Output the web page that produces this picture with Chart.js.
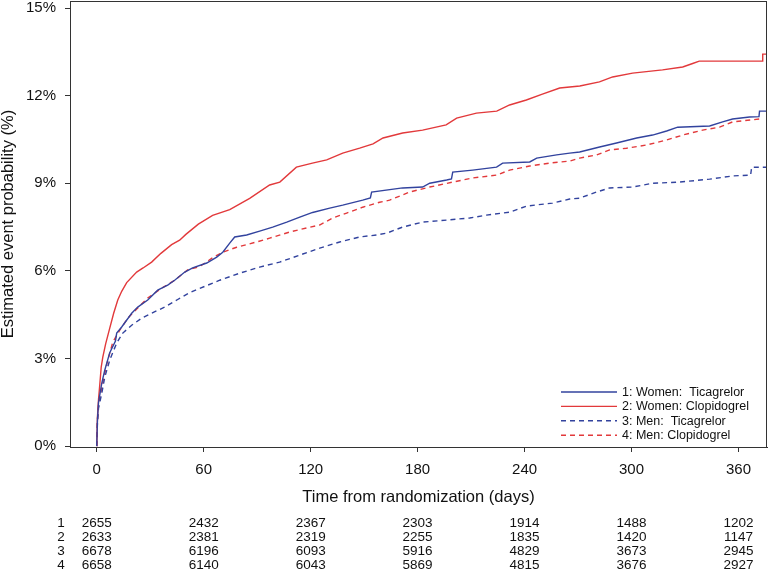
<!DOCTYPE html>
<html lang="en">
<head>
    <meta charset="UTF-8">
    <title>Kaplan-Meier: women vs men</title>
    <script src="https://cdn.jsdelivr.net/npm/chart.js"></script>
    <style>
        html, body { margin: 0; padding: 0; background: #fff; }
        #wrap { width: 768px; height: 570px; }
    </style>
</head>
<body>
    <div id="wrap"><canvas id="kmChart" width="768" height="570"></canvas></div>

    <script>
        // tick positions and labels
        const dayTicks = [0, 60, 120, 180, 240, 300, 360];
        const pctTicks = [0, 3, 6, 9, 12, 15];
        const seriesNames = ['1: Women:  Ticagrelor', '2: Women: Clopidogrel', '3: Men:  Ticagrelor', '4: Men: Clopidogrel'];

        // curves: [day, estimated event probability %]
        const womenTica = [[0,0],[0.4,0.9],[1,1.5],[2.8,2.15],[4.5,2.6],[7.3,3.2],[10.5,3.6],[11.2,3.87],[14,4.08],[19.6,4.55],[23,4.76],[28.6,5.0],[34.2,5.34],[39.8,5.51],[43.7,5.68],[49.4,5.96],[53.8,6.1],[61.7,6.27],[67.3,6.47],[70.7,6.64],[74.6,6.95],[77.4,7.16],[84.1,7.23],[91.4,7.36],[98.7,7.5],[106.6,7.67],[113.9,7.84],[121.1,8.0],[130.7,8.15],[138,8.25],[149.2,8.42],[153.5,8.5],[154.2,8.7],[171.6,8.84],[182.8,8.87],[186.8,9.0],[196.3,9.11],[199,9.15],[199.7,9.38],[210.9,9.45],[224.3,9.55],[227.7,9.69],[242.9,9.73],[246.8,9.86],[258,9.97],[265.3,10.03],[270.9,10.07],[282.1,10.24],[291.6,10.38],[302.9,10.55],[311.8,10.65],[319.7,10.79],[325.9,10.92],[343.8,10.96],[351.1,11.1],[356.7,11.2],[366.2,11.27],[371.5,11.28],[371.8,11.47],[376,11.47]];
        const womenClop = [[0,0],[0.4,1.0],[1,1.6],[1.7,2.1],[2.5,2.7],[3.4,3.05],[5,3.5],[7.3,4.04],[9.5,4.55],[11.8,5.0],[14,5.3],[16.8,5.6],[22.4,5.96],[26,6.1],[30.8,6.3],[36,6.6],[42,6.9],[46.5,7.05],[50,7.25],[57,7.6],[65,7.9],[74.6,8.1],[85.8,8.48],[97,8.94],[102.7,9.04],[112,9.55],[121,9.69],[129,9.8],[138,10.03],[147.5,10.2],[155,10.35],[160.6,10.55],[171.6,10.72],[182.8,10.82],[196,11.0],[201.9,11.23],[213,11.4],[224.4,11.47],[231.6,11.68],[241,11.85],[250,12.05],[259.7,12.26],[271,12.33],[282,12.47],[289.4,12.64],[300.6,12.77],[317.4,12.88],[328.7,12.98],[334.3,13.1],[338,13.18],[373.4,13.18],[373.6,13.42],[376,13.42]];
        const menTica = [[0,0],[0.4,0.8],[1,1.3],[2.8,1.8],[4.5,2.36],[7.3,2.95],[11.2,3.53],[14.6,3.87],[19.6,4.14],[25.2,4.38],[30.8,4.55],[38.1,4.76],[45.4,5.02],[52,5.25],[57.8,5.4],[69,5.68],[80.2,5.92],[91.4,6.13],[102.6,6.3],[113.9,6.54],[125.1,6.78],[136.3,6.99],[147.5,7.16],[157,7.23],[162.6,7.29],[171.6,7.5],[182.8,7.67],[196.3,7.74],[209.2,7.81],[218.7,7.91],[231.6,8.01],[241.2,8.22],[255.7,8.32],[265.3,8.46],[270.9,8.49],[280.4,8.7],[287.7,8.84],[300.6,8.87],[311.8,9.0],[327,9.04],[343.8,9.14],[356.7,9.25],[366.8,9.28],[367.4,9.55],[376,9.55]];
        const menClop = [[0,0],[0.4,0.9],[1,1.4],[2.8,2.0],[5.6,2.8],[9,3.56],[12.9,3.97],[17.4,4.38],[23,4.73],[28.6,5.07],[36.5,5.41],[43.7,5.68],[51,6.03],[57.8,6.15],[65,6.45],[70.7,6.64],[78.5,6.81],[89.7,6.99],[97,7.12],[108.2,7.33],[117.8,7.47],[125,7.57],[132.4,7.81],[140.2,7.98],[149.2,8.18],[158.7,8.35],[164.3,8.42],[175.5,8.7],[186.8,8.87],[199.7,9.04],[210.9,9.18],[224.3,9.28],[231.6,9.45],[242.9,9.59],[254,9.69],[265.3,9.76],[270.9,9.86],[280.4,9.97],[287.7,10.14],[297.2,10.2],[308.5,10.31],[319.7,10.48],[328.7,10.65],[339.9,10.82],[349.4,10.92],[356.7,11.1],[371.8,11.2],[373.5,11.2]];

        // numbers at risk at each day tick
        const riskRowLabels = ['1', '2', '3', '4'];
        const atRisk1 = [2655, 2432, 2367, 2303, 1914, 1488, 1202];
        const atRisk2 = [2633, 2381, 2319, 2255, 1835, 1420, 1147];
        const atRisk3 = [6678, 6196, 6093, 5916, 4829, 3673, 2945];
        const atRisk4 = [6658, 6140, 6043, 5869, 4815, 3676, 2927];

        const BLUE = '#32439e';
        const RED = '#e2393b';
        const AXIS = '#333333';
        const FONT = "'Liberation Sans', Arial, sans-serif";

        const toXY = arr => arr.map(p => ({ x: p[0], y: p[1] }));

        // box around the plot area
        const frame = {
            id: 'frame',
            afterDraw(chart) {
                const { ctx, chartArea: a } = chart;
                ctx.save();
                ctx.strokeStyle = AXIS;
                ctx.lineWidth = 1;
                ctx.strokeRect(a.left + 0.5, a.top + 0.5, a.right - a.left - 1, a.bottom - a.top);
                ctx.restore();
            }
        };

        // legend inside the bottom right corner
        const innerLegend = {
            id: 'innerLegend',
            afterDraw(chart) {
                const { ctx, chartArea: a } = chart;
                const x0 = a.right - 206, y0 = a.bottom - 55, rowH = 14.4;
                ctx.save();
                ctx.font = '12.5px ' + FONT;
                ctx.textBaseline = 'middle';
                ctx.fillStyle = '#111';
                chart.data.datasets.forEach((ds, i) => {
                    const y = y0 + i * rowH;
                    ctx.strokeStyle = ds.borderColor;
                    ctx.lineWidth = ds.borderWidth;
                    ctx.setLineDash(ds.borderDash || []);
                    ctx.beginPath();
                    ctx.moveTo(x0, y);
                    ctx.lineTo(x0 + 56, y);
                    ctx.stroke();
                    ctx.fillText(ds.label, x0 + 61, y + 0.5);
                });
                ctx.restore();
            }
        };

        // numbers-at-risk table under the x axis
        const riskTable = {
            id: 'riskTable',
            afterDraw(chart) {
                const { ctx } = chart;
                const xs = chart.scales.x;
                const rows = [atRisk1, atRisk2, atRisk3, atRisk4];
                ctx.save();
                ctx.font = '13.5px ' + FONT;
                ctx.fillStyle = '#111';
                ctx.textBaseline = 'middle';
                rows.forEach((row, r) => {
                    const y = 523.5 + r * 13.8;
                    ctx.textAlign = 'center';
                    ctx.fillText(riskRowLabels[r], 61, y);
                    row.forEach((n, k) => {
                        ctx.fillText(String(n), xs.getPixelForValue(dayTicks[k]), y);
                    });
                });
                ctx.restore();
            }
        };

        const ctx = document.getElementById('kmChart').getContext('2d');
        new Chart(ctx, {
            type: 'line',
            data: {
                datasets: [
                    { label: seriesNames[0], data: toXY(womenTica), borderColor: BLUE, borderWidth: 1.4, borderDash: [] },
                    { label: seriesNames[1], data: toXY(womenClop), borderColor: RED, borderWidth: 1.4, borderDash: [] },
                    { label: seriesNames[2], data: toXY(menTica), borderColor: BLUE, borderWidth: 1.4, borderDash: [5, 4] },
                    { label: seriesNames[3], data: toXY(menClop), borderColor: RED, borderWidth: 1.4, borderDash: [5, 4] }
                ]
            },
            options: {
                responsive: false,
                animation: false,
                layout: { padding: { top: 1, right: 1, left: 0, bottom: 0 } },
                elements: { point: { radius: 0 }, line: { tension: 0, fill: false } },
                plugins: { legend: { display: false }, tooltip: { enabled: false } },
                scales: {
                    x: {
                        type: 'linear',
                        min: -15,
                        max: 376,
                        afterFit: s => { s.height = 123; s.paddingLeft = 0; s.paddingRight = 0; },
                        afterBuildTicks: s => { s.ticks = dayTicks.map(v => ({ value: v })); },
                        grid: { drawOnChartArea: false, tickLength: 5, tickColor: AXIS },
                        border: { color: AXIS },
                        ticks: { padding: 9, color: '#111', font: { family: FONT, size: 15 }, maxRotation: 0, callback: v => String(v) },
                        title: { display: true, text: 'Time from randomization (days)', color: '#111', font: { family: FONT, size: 16.5 }, padding: { bottom: 63, top: 0 } }
                    },
                    y: {
                        min: -0.03,
                        max: 15.24,
                        afterFit: s => { s.width = 70; s.paddingTop = 0; s.paddingBottom = 0; },
                        afterBuildTicks: s => { s.ticks = pctTicks.map(v => ({ value: v })); },
                        grid: { drawOnChartArea: false, tickLength: 5, tickColor: AXIS },
                        border: { color: AXIS },
                        ticks: { padding: 9, color: '#111', font: { family: FONT, size: 15 }, callback: v => v + '%' },
                        title: { display: true, text: 'Estimated event probability (%)', color: '#111', font: { family: FONT, size: 16.5, lineHeight: 1 }, padding: { top: 0, bottom: 0 } }
                    }
                }
            },
            plugins: [frame, innerLegend, riskTable]
        });
    </script>
</body>
</html>
